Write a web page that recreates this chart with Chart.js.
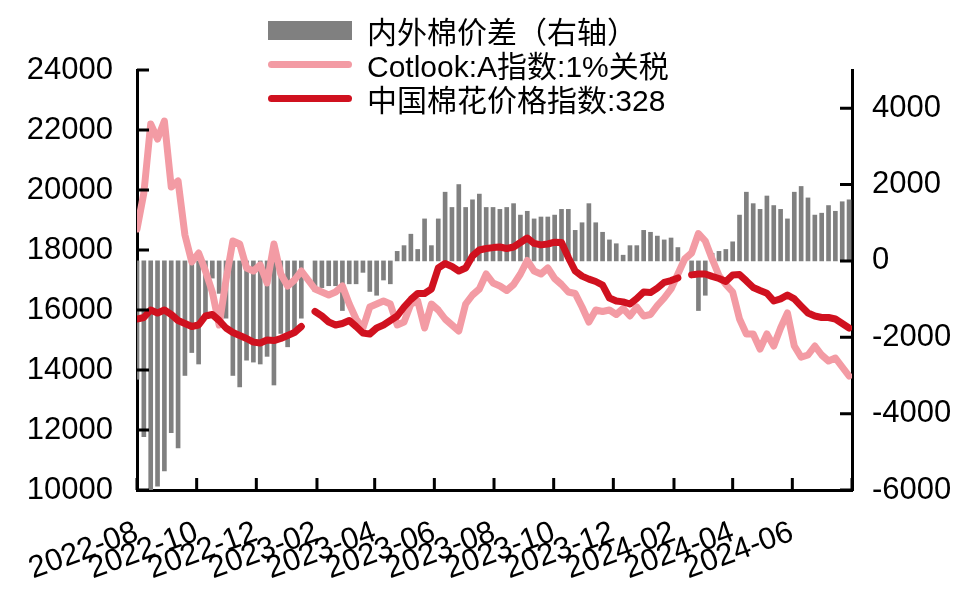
<!DOCTYPE html>
<html>
<head>
<meta charset="utf-8">
<script src="https://cdn.jsdelivr.net/npm/chart.js@4.4.0/dist/chart.umd.min.js"></script>
<style>
  html, body { margin: 0; padding: 0; background: #fff; }
  #wrap { position: relative; width: 980px; height: 615px; }
  #legend { position: absolute; left: 268px; top: 13px; font: 30px 'Liberation Sans', 'Noto Sans CJK SC', sans-serif; color: #000; }
  .row { height: 34px; display: flex; align-items: center; white-space: nowrap; }
  .sw { width: 84px; margin-right: 15px; flex: none; }
  .sw.bar { height: 19px; background: #808080; }
  .sw.line { height: 7px; border-radius: 4px; }
</style>
</head>
<body>
<div id="wrap">
  <canvas id="c" width="980" height="615"></canvas>
  <div id="legend"></div>
</div>
<script>
// weekly samples (Mondays)
const dates = [
  '2022-08-01','2022-08-08','2022-08-15','2022-08-22','2022-08-29','2022-09-05','2022-09-12','2022-09-19','2022-09-26','2022-10-03',
  '2022-10-10','2022-10-17','2022-10-24','2022-10-31','2022-11-07','2022-11-14','2022-11-21','2022-11-28','2022-12-05','2022-12-12',
  '2022-12-19','2022-12-26','2023-01-02','2023-01-09','2023-01-16','2023-01-23','2023-01-30','2023-02-06','2023-02-13','2023-02-20',
  '2023-02-27','2023-03-06','2023-03-13','2023-03-20','2023-03-27','2023-04-03','2023-04-10','2023-04-17','2023-04-24','2023-05-01',
  '2023-05-08','2023-05-15','2023-05-22','2023-05-29','2023-06-05','2023-06-12','2023-06-19','2023-06-26','2023-07-03','2023-07-10',
  '2023-07-17','2023-07-24','2023-07-31','2023-08-07','2023-08-14','2023-08-21','2023-08-28','2023-09-04','2023-09-11','2023-09-18',
  '2023-09-25','2023-10-02','2023-10-09','2023-10-16','2023-10-23','2023-10-30','2023-11-06','2023-11-13','2023-11-20','2023-11-27',
  '2023-12-04','2023-12-11','2023-12-18','2023-12-25','2024-01-01','2024-01-08','2024-01-15','2024-01-22','2024-01-29','2024-02-05',
  '2024-02-12','2024-02-19','2024-02-26','2024-03-04','2024-03-11','2024-03-18','2024-03-25','2024-04-01','2024-04-08','2024-04-15',
  '2024-04-22','2024-04-29','2024-05-06','2024-05-13','2024-05-20','2024-05-27','2024-06-03','2024-06-10','2024-06-17','2024-06-24',
  '2024-07-01','2024-07-08','2024-07-15','2024-07-22','2024-07-29'
];

const cotlookA = [
  18700,19900,22200,21700,22300,20100,20300,18500,17600,17900,
  17300,16600,15500,17000,18300,18200,17400,17300,17500,16900,
  18200,17200,16800,17000,17300,17000,16700,16600,16500,16600,
  16800,16200,15700,15400,16100,16200,16300,16200,15500,15600,
  16200,16300,15400,16200,16000,15700,15500,15300,16200,16500,
  16700,17200,16900,16800,16650,16850,17200,17650,17300,17200,
  17400,17050,16850,16600,16550,16100,15600,16000,15950,16000,
  15850,16050,15800,16100,15800,15850,16150,16400,16700,17200,
  17700,17900,18550,18300,17700,17150,16850,16600,15700,15200,
  15200,14700,15200,14800,15400,15900,14800,14430,14500,14800,
  14500,14300,14400,14100,13800
];

const chinaCC = [
  15700,15750,16000,15900,16000,15850,15650,15550,15450,15500,
  15800,15850,15650,15400,15250,15150,15050,14930,14900,15000,
  14980,15050,15150,15250,15450,null,15950,15800,15600,15500,
  15550,15650,15450,15230,15200,15400,15500,15650,15800,16100,
  16350,16550,16550,16700,17400,17550,17450,17300,17400,17800,
  18000,18050,18080,18100,18050,18100,18250,18400,18220,18170,
  18200,18260,18250,17750,17300,17130,17030,16950,16830,16400,
  16300,16270,16200,16380,16600,16580,16730,16920,16980,17070,
  null,17170,17200,17200,17120,17050,16950,17170,17180,16970,
  16750,16650,16560,16300,16370,16500,16370,16130,15900,15800,
  15750,15750,15700,15550,15400
];

const spread = [
  -3100,-4600,-6000,-5900,-5500,-4500,-4900,-3000,-2400,-2700,
  -1500,-450,-850,-1500,-3000,-3300,-2600,-2650,-2700,-2500,
  -3250,-1900,-2250,-1800,-1500,null,-800,-700,-650,-650,
  -1300,-600,-600,-300,-800,-900,-500,-600,250,400,
  700,300,1100,400,1100,1800,1400,2000,1400,1600,
  1750,1400,1400,1350,1400,1500,1200,1300,1100,1150,
  1150,1200,1350,1350,800,1000,1500,1000,750,550,
  450,150,400,400,800,750,650,550,600,350,
  null,-300,-1300,-900,200,250,300,500,1200,1800,
  1500,1350,1700,1450,1350,1100,1800,1950,1650,1200,
  1250,1450,1300,1550,1600
];

const tickMonths = ['2022-08','2022-10','2022-12','2023-02','2023-04','2023-06','2023-08','2023-10','2023-12','2024-02','2024-04','2024-06','2024-08'];
const leftTicks = [10000, 12000, 14000, 16000, 18000, 20000, 22000, 24000];
const rightTicks = [-6000, -4000, -2000, 0, 2000, 4000];
const seriesNames = ['内外棉价差（右轴）', 'Cotlook:A指数:1%关税', '中国棉花价格指数:328'];
const colors = ['#808080', '#F39BA4', '#D0111F'];

const dayIndex = s => (Date.UTC(+s.slice(0,4), +s.slice(5,7) - 1, +(s.slice(8,10) || 1)) - Date.UTC(2022, 7, 1)) / 86400000;
const pts = arr => arr.map((v, i) => ({ x: dayIndex(dates[i]), y: v }));
const asTicks = arr => arr.map(v => ({ value: v }));

const FONT = "'Liberation Sans', Arial, sans-serif";

// tick marks pointing into the plot, like the original
const innerTicks = {
  id: 'innerTicks',
  afterDraw(chart){
    const { ctx, chartArea: a, scales } = chart;
    ctx.save();
    ctx.strokeStyle = '#000'; ctx.lineWidth = 3;
    ctx.beginPath();
    scales.y.ticks.forEach(t => { const p = scales.y.getPixelForValue(t.value); ctx.moveTo(a.left, p); ctx.lineTo(a.left + 12, p); });
    scales.y1.ticks.forEach(t => { const p = scales.y1.getPixelForValue(t.value); ctx.moveTo(a.right - 12, p); ctx.lineTo(a.right, p); });
    scales.x.ticks.forEach(t => { const p = scales.x.getPixelForValue(t.value); ctx.moveTo(p, a.bottom); ctx.lineTo(p, a.bottom - 12); });
    ctx.stroke();
    ctx.restore();
  }
};

new Chart(document.getElementById('c'), {
  type: 'bar',
  data: {
    datasets: [
      { type: 'bar', label: seriesNames[0], data: pts(spread), yAxisID: 'y1', backgroundColor: colors[0], barThickness: 4, borderWidth: 0, order: 3 },
      { type: 'line', label: seriesNames[1], data: pts(cotlookA), yAxisID: 'y', borderColor: colors[1], borderWidth: 7, pointRadius: 0, tension: 0, spanGaps: false, borderJoinStyle: 'round', borderCapStyle: 'round', order: 2 },
      { type: 'line', label: seriesNames[2], data: pts(chinaCC), yAxisID: 'y', borderColor: colors[2], borderWidth: 7, pointRadius: 0, tension: 0, spanGaps: false, borderJoinStyle: 'round', borderCapStyle: 'round', order: 1 }
    ]
  },
  options: {
    responsive: false,
    animation: false,
    devicePixelRatio: 1,
    layout: { padding: { top: 70, left: 0, right: 0, bottom: 0 } },
    plugins: { legend: { display: false }, tooltip: { enabled: false } },
    scales: {
      x: {
        type: 'linear', offset: false,
        min: dayIndex('2022-08-01'), max: dayIndex('2024-08-01'),
        afterBuildTicks: s => { s.ticks = asTicks(tickMonths.map(dayIndex)); },
        afterFit: s => { s.height = 125; },
        grid: { display: false, drawTicks: false },
        border: { display: true, color: '#000', width: 3 },
        ticks: {
          autoSkip: false, minRotation: 20, maxRotation: 20, padding: 24,
          color: '#000', font: { family: FONT, size: 31 },
          callback: (v, i) => i < tickMonths.length - 1 ? tickMonths[i] : ''
        }
      },
      y: {
        position: 'left', min: 10000, max: 24000,
        afterBuildTicks: s => { s.ticks = asTicks(leftTicks); },
        afterFit: s => { s.width = 137; },
        grid: { display: false, drawTicks: false },
        border: { display: true, color: '#000', width: 3 },
        ticks: { padding: 24, color: '#000', font: { family: FONT, size: 31 }, callback: v => String(v) }
      },
      y1: {
        position: 'right', min: -6000, max: 5000,
        afterBuildTicks: s => { s.ticks = asTicks(rightTicks); },
        afterFit: s => { s.width = 128; },
        grid: { display: false, drawTicks: false },
        border: { display: true, color: '#000', width: 3 },
        ticks: { padding: 20, color: '#000', font: { family: FONT, size: 31 }, callback: v => String(v) }
      }
    }
  },
  plugins: [innerTicks]
});

// legend stacked in three rows, as in the picture
document.getElementById('legend').innerHTML = seriesNames.map((n, i) =>
  `<div class="row"><span class="sw ${i ? 'line' : 'bar'}" style="background:${colors[i]}"></span><span>${n}</span></div>`
).join('');
</script>
</body>
</html>
